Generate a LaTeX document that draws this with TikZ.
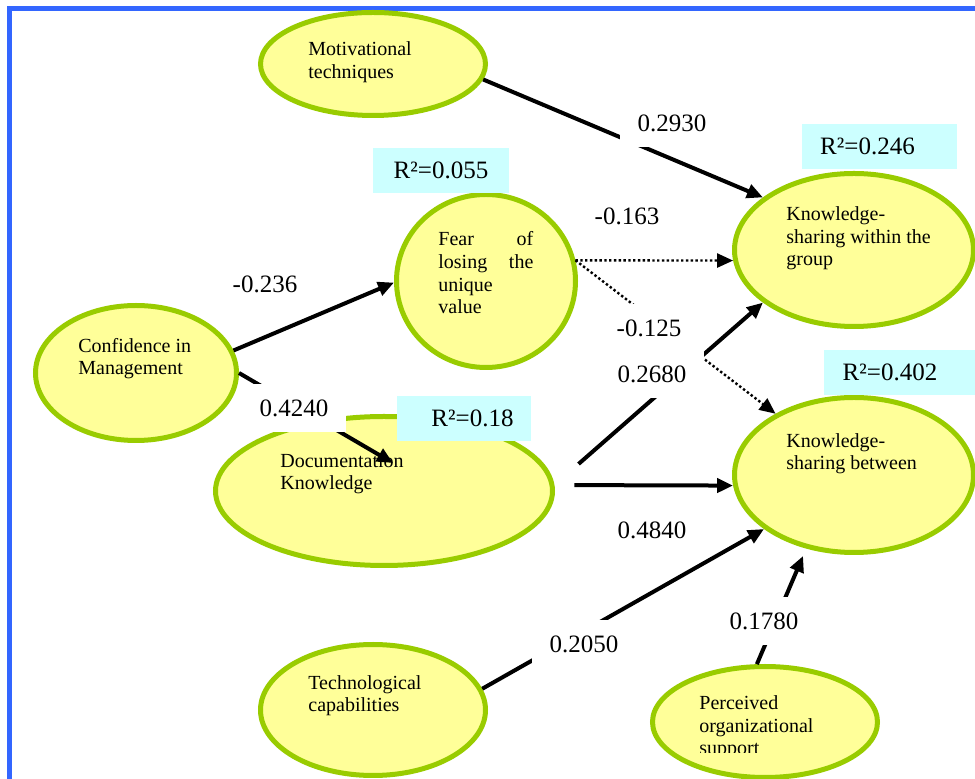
\documentclass[tikz,border=0pt]{standalone}
\usepackage{fontspec}
\setmainfont{Liberation Serif}
\usetikzlibrary{shapes.geometric,arrows.meta}

\definecolor{lvgreen}{HTML}{99CC00}
\definecolor{lvfill}{HTML}{FFFF99}
\definecolor{rsqbg}{HTML}{CCFFFF}
\definecolor{framebl}{HTML}{3366FF}

\begin{document}
\begin{tikzpicture}[x=0.5pt, y=-0.5pt,
        latent/.style={ellipse, draw=lvgreen, fill=lvfill, line width=2.5pt, inner sep=0pt},
        vname/.style={anchor=base west, inner sep=0pt, align=left, font=\fontsize{10}{11.3}\selectfont},
        coef/.style={fill=white, inner sep=0pt, minimum width=52pt, minimum height=24pt, font=\fontsize{12.5}{15}\selectfont},
        rsq/.style={fill=rsqbg, inner sep=0pt, minimum height=22.5pt, font=\fontsize{12.5}{15}\selectfont},
        link/.style={line width=2pt, -{Triangle[length=8pt,width=7pt]}},
        weak/.style={line width=1.2pt, dash pattern=on 1.2pt off 1.2pt, -{Triangle[length=8pt,width=7pt]}}]

    % 枠
    \clip (0,0) rectangle (975,779);
    \draw[framebl, line width=2.5pt] (9.5,8.5) rectangle (1000,800);

    % 楕円
    \foreach \n/\x/\y/\w/\h in {mot/373/64/112.5/51.5, fear/486/281/89.5/86.5,
            conf/136/373/100.5/67.5, doc/384/491/168.5/74.5, ksw/854/250/119.5/76.5,
            ksb/854/475/119.5/77.5, tech/373/710/112.5/65.5, perc/765/722/112.5/55.5} {
        \node[latent, minimum width=\w pt, minimum height=\h pt] (\n) at (\x, \y) {};
    }

    % 変数名 (base は最後の行)
    \node[vname] (motT) at (308, 78.5) {Motivational\\techniques};
    \node[vname, text width=47.5pt] (fearT) at (438, 246) {Fear\hfill of\\losing\hfill the\\unique\\value};
    \node[vname] (confT) at (78, 375) {Confidence in\\Management};
    \node[vname] (docT) at (280, 490) {Documentation\\Knowledge};
    \node[vname] (kswT) at (786, 266) {Knowledge-\\sharing within the\\group};
    \node[vname] (ksbT) at (786, 470) {Knowledge-\\sharing between};
    \node[vname] (techT) at (308, 712) {Technological\\capabilities};
    \begin{scope}
        \clip (600, 600) rectangle (900, 753);
        \node[vname] (percT) at (699, 755) {Perceived\\organizational\\support};
    \end{scope}

    % R^2
    \node[rsq, minimum width=68pt] (rfear) at (441, 170.5) {R²=0.055};
    \node[rsq, minimum width=77.5pt] (rksw) at (879.5, 146.5) {R²=0.246\kern12pt};
    \node[rsq, minimum width=77pt] (rksb) at (901, 372.5) {R²=0.402\kern11pt};
    \node[rsq, minimum width=67pt] (rdoc) at (463.5, 418.5) {\kern9pt R²=0.18};

    % 矢印
    \coordinate (docin) at (393, 463);
    \draw[link] (mot.-8) -- (ksw.150);
    \draw[link] (conf.13) -- (fear.181);
    \draw[link] (conf.east) -- (docin);
    \draw[weak] (fear.13) -- (ksw.185);
    \draw[weak] (fear.13) -- (ksb.142);
    \draw[link, shorten <=16pt] (doc.2) -- (ksw.210);
    \draw[link, shorten <=10pt] (doc.2) -- (ksb.185);
    \draw[link] (tech.11) -- (ksb.211);
    \draw[link, shorten >=4pt] (perc.98) -- (ksb.237);

    % 係数
    \node[coef] (wMot) at (672, 123) {0.2930};
    \node[coef] (wFearW) at (627, 216) {-0.163};
    \node[coef] (wConfF) at (265, 284) {-0.236};
    \node[coef] (wConfD) at (294, 408) {0.4240};
    \node[coef] (wFearB) at (649, 328) {-0.125};
    \node[coef] (wDocW) at (652, 374) {0.2680};
    \node[coef] (wDocB) at (652, 530) {0.4840};
    \node[coef] (wTech) at (584, 644) {0.2050};
    \node[coef] (wPerc) at (764, 621) {0.1780};

\end{tikzpicture}
\end{document}
